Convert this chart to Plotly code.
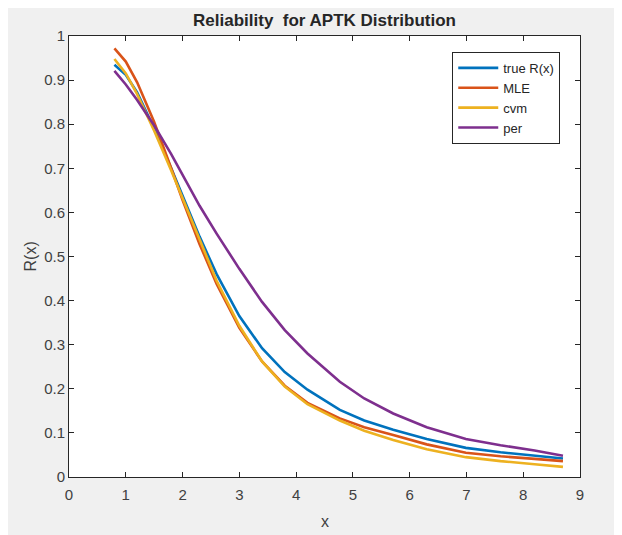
import plotly.graph_objects as go

# ── data ──────────────────────────────────────────────────────
x_vals = [0.8, 1.0, 1.2, 1.5, 1.8, 2.0, 2.3, 2.6, 3.0, 3.4,
          3.8, 4.2, 4.77, 5.2, 5.71, 6.3, 6.99, 7.6, 8.2, 8.7]

true_r = [0.935, 0.912, 0.872, 0.79, 0.70, 0.637, 0.545, 0.46, 0.365, 0.292,
          0.238, 0.198, 0.152, 0.128, 0.107, 0.086, 0.066, 0.056, 0.048, 0.042]
mle    = [0.972, 0.942, 0.895, 0.805, 0.70, 0.628, 0.528, 0.438, 0.338, 0.262,
          0.207, 0.168, 0.133, 0.113, 0.095, 0.074, 0.055, 0.047, 0.041, 0.036]
cvm    = [0.948, 0.915, 0.868, 0.785, 0.695, 0.632, 0.535, 0.445, 0.343, 0.262,
          0.205, 0.165, 0.128, 0.105, 0.084, 0.063, 0.045, 0.036, 0.029, 0.023]
per    = [0.921, 0.89, 0.855, 0.797, 0.732, 0.685, 0.615, 0.552, 0.472, 0.397,
          0.333, 0.28, 0.216, 0.178, 0.144, 0.113, 0.086, 0.072, 0.06, 0.048]

series = [("true R(x)", true_r, "#0072BD"),
          ("MLE",       mle,    "#D95319"),
          ("cvm",       cvm,    "#EDB120"),
          ("per",       per,    "#7E2F8E")]

x_ticks = list(range(0, 10))
y_ticks = [i / 10 for i in range(0, 11)]
y_ticktext = ["0"] + [f"{v:.1f}" for v in y_ticks[1:-1]] + ["1"]

# ── figure ────────────────────────────────────────────────────
# page body has an 8px margin, so the figure is 8px smaller each way
W, H = 614, 527
ML, MR, MT, MB = 61, 42, 28, 58
PW, PH = W - ML - MR, H - MT - MB

fig = go.Figure()
for name, ys, col in series:
    fig.add_trace(go.Scatter(x=x_vals, y=ys, name=name, mode="lines",
                             line=dict(color=col, width=2.6)))

AX = "#262626"
axis_common = dict(showline=True, linecolor=AX, linewidth=1, mirror="ticks",
                   ticks="inside", ticklen=5, tickcolor=AX, showgrid=False,
                   zeroline=False, automargin=False,
                   tickfont=dict(size=15, color="#404040"))

fig.update_layout(
    width=W, height=H,
    margin=dict(l=ML, r=MR, t=MT, b=MB),
    paper_bgcolor="#f0f0f0", plot_bgcolor="white",
    font=dict(family="Liberation Sans, Arial, sans-serif", color="#262626"),
    title=dict(text="<b>Reliability  for APTK Distribution</b>",
               x=0.5, xref="paper", xanchor="center",
               y=1 - 12 / H, yref="container", yanchor="middle",
               font=dict(size=17, color="#262626")),
    xaxis=dict(range=[0, 9], tickvals=x_ticks, ticklabelstandoff=4, **axis_common),
    yaxis=dict(range=[0, 1], tickvals=y_ticks, ticktext=y_ticktext, **axis_common),
    legend=dict(x=0.75, y=0.964, xanchor="left", yanchor="top",
                bgcolor="white", bordercolor=AX, borderwidth=1,
                font=dict(size=13, color="#262626"),
                tracegroupgap=0, itemwidth=40),
    showlegend=True,
)

# axis labels placed like the MATLAB figure
fig.add_annotation(text="x", xref="paper", yref="paper",
                   x=0.5, y=-44 / PH, xanchor="center", yanchor="middle",
                   showarrow=False, font=dict(size=16, color="#404040"))
fig.add_annotation(text="R(x)", xref="paper", yref="paper", textangle=-90,
                   x=-39 / PW, y=0.5, xanchor="center", yanchor="middle",
                   showarrow=False, font=dict(size=16, color="#404040"))

fig.write_html("out.html")
